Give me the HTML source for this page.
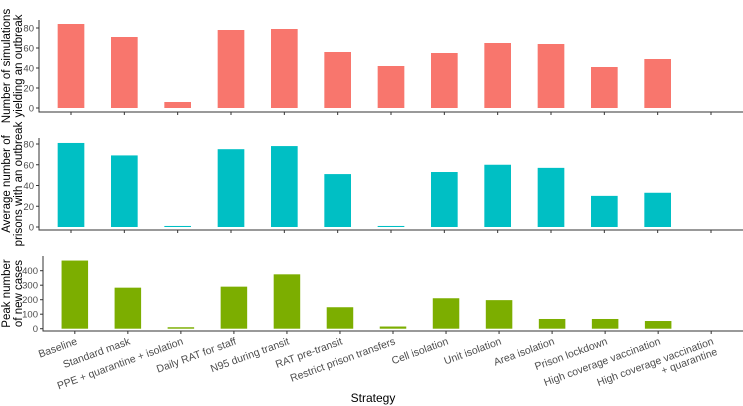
<!DOCTYPE html>
<html><head><meta charset="utf-8"><style>
body{margin:0;background:#fff;}
svg{display:block;font-family:"Liberation Sans",Arial,sans-serif;}
</style></head><body>
<svg id="chart" width="743" height="406"></svg>
<script>
const categories = ["Baseline","Standard mask","PPE + quarantine + isolation","Daily RAT for staff","N95 during transit","RAT pre-transit","Restrict prison transfers","Cell isolation","Unit isolation","Area isolation","Prison lockdown","High coverage vaccination","High coverage vaccination|+ quarantine"];
const simsOutbreak = [84,71,6,78,79,56,42,55,65,64,41,49,0];
const prisonsOutbreak = [81,69,1,75,78,51,1,53,60,57,30,33,0];
const peakCases = [470,283,10,290,375,148,15,210,197,67,67,53,0];
const ticks1 = [0,20,40,60,80];
const ticks3 = [0,100,200,300,400];

const NS = "http://www.w3.org/2000/svg";
const svg = document.getElementById("chart");
function mk(tag, attrs, parent){ const e=document.createElementNS(NS,tag); for(const k in attrs) e.setAttribute(k,attrs[k]); (parent||svg).appendChild(e); return e; }

const panels = [
  {vals:simsOutbreak, ticks:ticks1, left:39, zeroY:108, scale:1, top:20, bottom:112, color:"#F8766D", title:["Number of simulations","yielding an outbreak"], name:"simulations-panel"},
  {vals:prisonsOutbreak, ticks:ticks1, left:39, zeroY:227, scale:1.0375, top:138, bottom:230, color:"#00BFC4", title:["Average number of","prisons with an outbreak"], name:"prisons-panel"},
  {vals:peakCases, ticks:ticks3, left:43, zeroY:328.7, scale:0.145, top:256, bottom:331, color:"#7CAE00", title:["Peak number","of new cases"], name:"peak-cases-panel"}
];

panels.forEach((p, pi) => {
  const g = mk("g", {});
  
  
  const step = (743 - p.left) / (categories.length - 1 + 1.2);
  const xc = i => p.left + step * (0.6 + i);
  const y = v => p.zeroY - v * p.scale;
  p.vals.forEach((v, i) => {
    const h = Math.max(v * p.scale, 0);
    const r = mk("rect", {x: xc(i) - step*0.25, y: y(v), width: step*0.5, height: h, fill: p.color}, g);
    
    
  });
  const ax = mk("path", {d:`M${p.left} ${p.top} V${p.bottom} H743`, stroke:"#333", "stroke-width":1, fill:"none"}, g);
  
  
  p.ticks.forEach(t => {
    mk("line", {x1:p.left-3, x2:p.left, y1:y(t), y2:y(t), stroke:"#333"}, g);
    const tx = mk("text", {x:p.left-5, y:y(t)+3.5, "text-anchor":"end", "font-size":9.5, fill:"#4d4d4d"}, g);
    tx.textContent = t;
    
    
  });
  const cy = (p.top + p.bottom)/2;
  const tt = mk("text", {transform:`translate(10,${cy}) rotate(-90)`, "text-anchor":"middle", "font-size":11.5, fill:"#000"}, g);
  
  
  p.title.forEach((line, li) => { const ts = mk("tspan", {x:0, dy: li===0 ? 0 : 12}, tt); ts.textContent = line; });
  categories.forEach((c, i) => mk("line", {x1:xc(i), x2:xc(i), y1:p.bottom, y2:p.bottom+3, stroke:"#333"}, g));
  if (pi === 2) {
    categories.forEach((c, i) => {
      const lines = c.split("|");
      const t = mk("text", {transform:`translate(${xc(i)+3},${p.bottom+13}) rotate(-20)`, "text-anchor":"end", "font-size":10.5, fill:"#4d4d4d"}, g);
      
      
      lines.forEach((l, li) => { const ts = mk("tspan", {x:0, dy: li===0 ? 0 : 11}, t); ts.textContent = l; });
    });
  }
});
const xt = mk("text", {x:373, y:402, "text-anchor":"middle", "font-size":12, fill:"#000"});
xt.textContent = "Strategy";


</script>
</body></html>
